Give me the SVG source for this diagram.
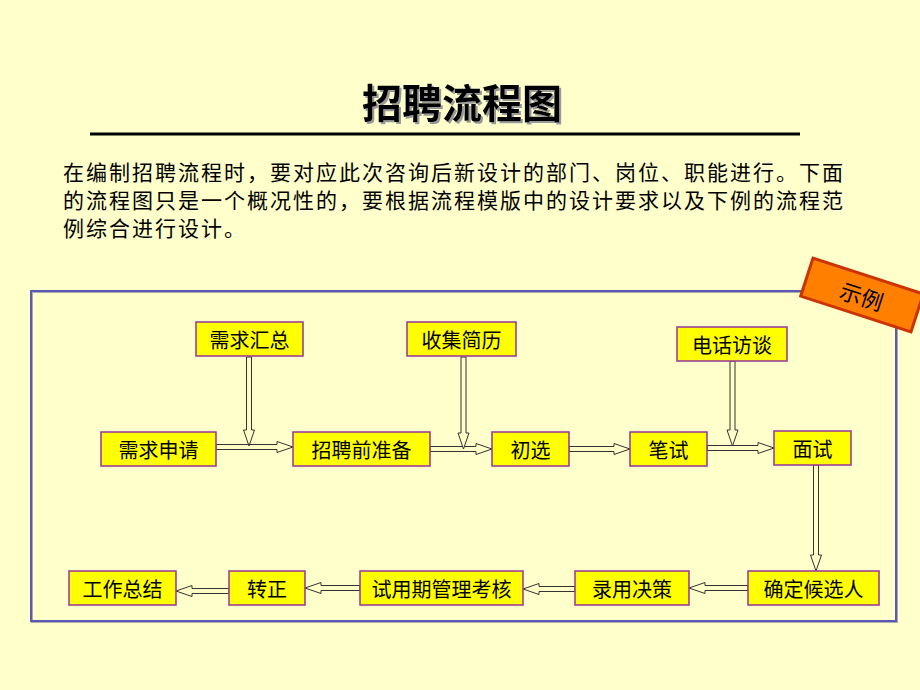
<svg xmlns="http://www.w3.org/2000/svg" width="920" height="690" viewBox="0 0 920 690">
<defs>
<style>
.bg{fill:#FFFFCC}
.box{fill:#FFFF00;stroke:#993399;stroke-width:1.5}
.lbl{font-family:"Noto Sans CJK SC","Noto Sans",sans-serif;font-size:20px;fill:#000;text-anchor:middle;dominant-baseline:central}
.para{font-family:"Noto Sans CJK SC","Noto Sans",sans-serif;font-size:21px;fill:#000;letter-spacing:2px}
.title{font-family:"Noto Sans CJK SC","Noto Sans",sans-serif;font-size:40px;font-weight:bold;text-anchor:middle;dominant-baseline:central}
.arrow{fill:#FFFFC8;stroke:#333333;stroke-width:1;stroke-linejoin:miter}
</style>
<filter id="shadow" x="-10%" y="-20%" width="120%" height="140%">
<feDropShadow dx="2" dy="2" stdDeviation="0" flood-color="#999999" flood-opacity="1"/>
</filter>
</defs>
<rect class="bg" x="0" y="0" width="920" height="690"/>
<g id="title">
<text class="title" x="462" y="101" fill="#000000" filter="url(#shadow)">招聘流程图</text>
<line x1="90" y1="134" x2="800" y2="134" stroke="#000" stroke-width="3"/>
</g>
<g id="intro">
<text class="para" x="63" y="180">在编制招聘流程时，要对应此次咨询后新设计的部门、岗位、职能进行。下面</text>
<text class="para" x="63" y="208">的流程图只是一个概况性的，要根据流程模版中的设计要求以及下例的流程范</text>
<text class="para" x="63" y="236">例综合进行设计。</text>
</g>
<g id="frame">
<rect x="32" y="292" width="865" height="330" fill="none" stroke="#AAAAAA" stroke-width="2"/>
<rect x="31" y="291" width="865" height="330" fill="none" stroke="#5A5AB4" stroke-width="2"/>
</g>
<g id="badge" transform="translate(862,295) rotate(18)">
<rect x="-58" y="-20" width="116" height="40" fill="#FF8000" stroke="#CC3300" stroke-width="3"/>
<text class="lbl" x="0" y="0" style="font-size:22px">示例</text>
</g>
<g id="connectors">
<path class="arrow" d="M216,444.5 H277 V441.5 L293,447 L277,452.5 V449.5 H216 Z"/>
<path class="arrow" d="M246.5,357 V430 H243.5 L249,446 L254.5,430 H251.5 V357 Z"/>
<path class="arrow" d="M430,446.5 H476 V443.5 L492,449 L476,454.5 V451.5 H430 Z"/>
<path class="arrow" d="M461,357 V433 H458 L463.5,449 L469,433 H466 V357 Z"/>
<path class="arrow" d="M569,446.5 H614 V443.5 L630,449 L614,454.5 V451.5 H569 Z"/>
<path class="arrow" d="M707,445.5 H758 V442.5 L774,448 L758,453.5 V450.5 H707 Z"/>
<path class="arrow" d="M730,361 V430 H727 L732.5,446 L738,430 H735 V361 Z"/>
<path class="arrow" d="M813.5,465 V555 H810.5 L816,571 L821.5,555 H818.5 V465 Z"/>
<path class="arrow" d="M748,585.5 H705 V582.5 L689,588 L705,593.5 V590.5 H748 Z"/>
<path class="arrow" d="M575,586.5 H539 V583.5 L523,589 L539,594.5 V591.5 H575 Z"/>
<path class="arrow" d="M360,585.5 H321 V582.5 L305,588 L321,593.5 V590.5 H360 Z"/>
<path class="arrow" d="M229,588.5 H192 V585.5 L176,591 L192,596.5 V593.5 H229 Z"/>
</g>
<g id="n-xqhz"><rect class="box" x="196" y="322" width="107" height="34"/><text class="lbl" x="249.5" y="339">需求汇总</text></g>
<g id="n-sjjl"><rect class="box" x="407" y="322" width="109" height="34"/><text class="lbl" x="461.5" y="339">收集简历</text></g>
<g id="n-dhft"><rect class="box" x="677" y="327" width="110" height="34"/><text class="lbl" x="732" y="344">电话访谈</text></g>
<g id="n-xqsq"><rect class="box" x="101" y="432" width="115" height="34"/><text class="lbl" x="158.5" y="449">需求申请</text></g>
<g id="n-zpqzb"><rect class="box" x="293" y="432" width="137" height="34"/><text class="lbl" x="361.5" y="449">招聘前准备</text></g>
<g id="n-cx"><rect class="box" x="492" y="432" width="77" height="34"/><text class="lbl" x="530.5" y="449">初选</text></g>
<g id="n-bs"><rect class="box" x="630" y="432" width="77" height="34"/><text class="lbl" x="668.5" y="449">笔试</text></g>
<g id="n-ms"><rect class="box" x="774" y="431" width="77" height="34"/><text class="lbl" x="812.5" y="448">面试</text></g>
<g id="n-qdhxr"><rect class="box" x="748" y="571" width="131" height="34"/><text class="lbl" x="813.5" y="588">确定候选人</text></g>
<g id="n-lyjc"><rect class="box" x="575" y="571" width="114" height="34"/><text class="lbl" x="632" y="588">录用决策</text></g>
<g id="n-syqglkh"><rect class="box" x="360" y="571" width="163" height="34"/><text class="lbl" x="441.5" y="588">试用期管理考核</text></g>
<g id="n-zz"><rect class="box" x="229" y="571" width="76" height="34"/><text class="lbl" x="267" y="588">转正</text></g>
<g id="n-gzzj"><rect class="box" x="69" y="571" width="107" height="34"/><text class="lbl" x="122.5" y="588">工作总结</text></g>
</svg>
